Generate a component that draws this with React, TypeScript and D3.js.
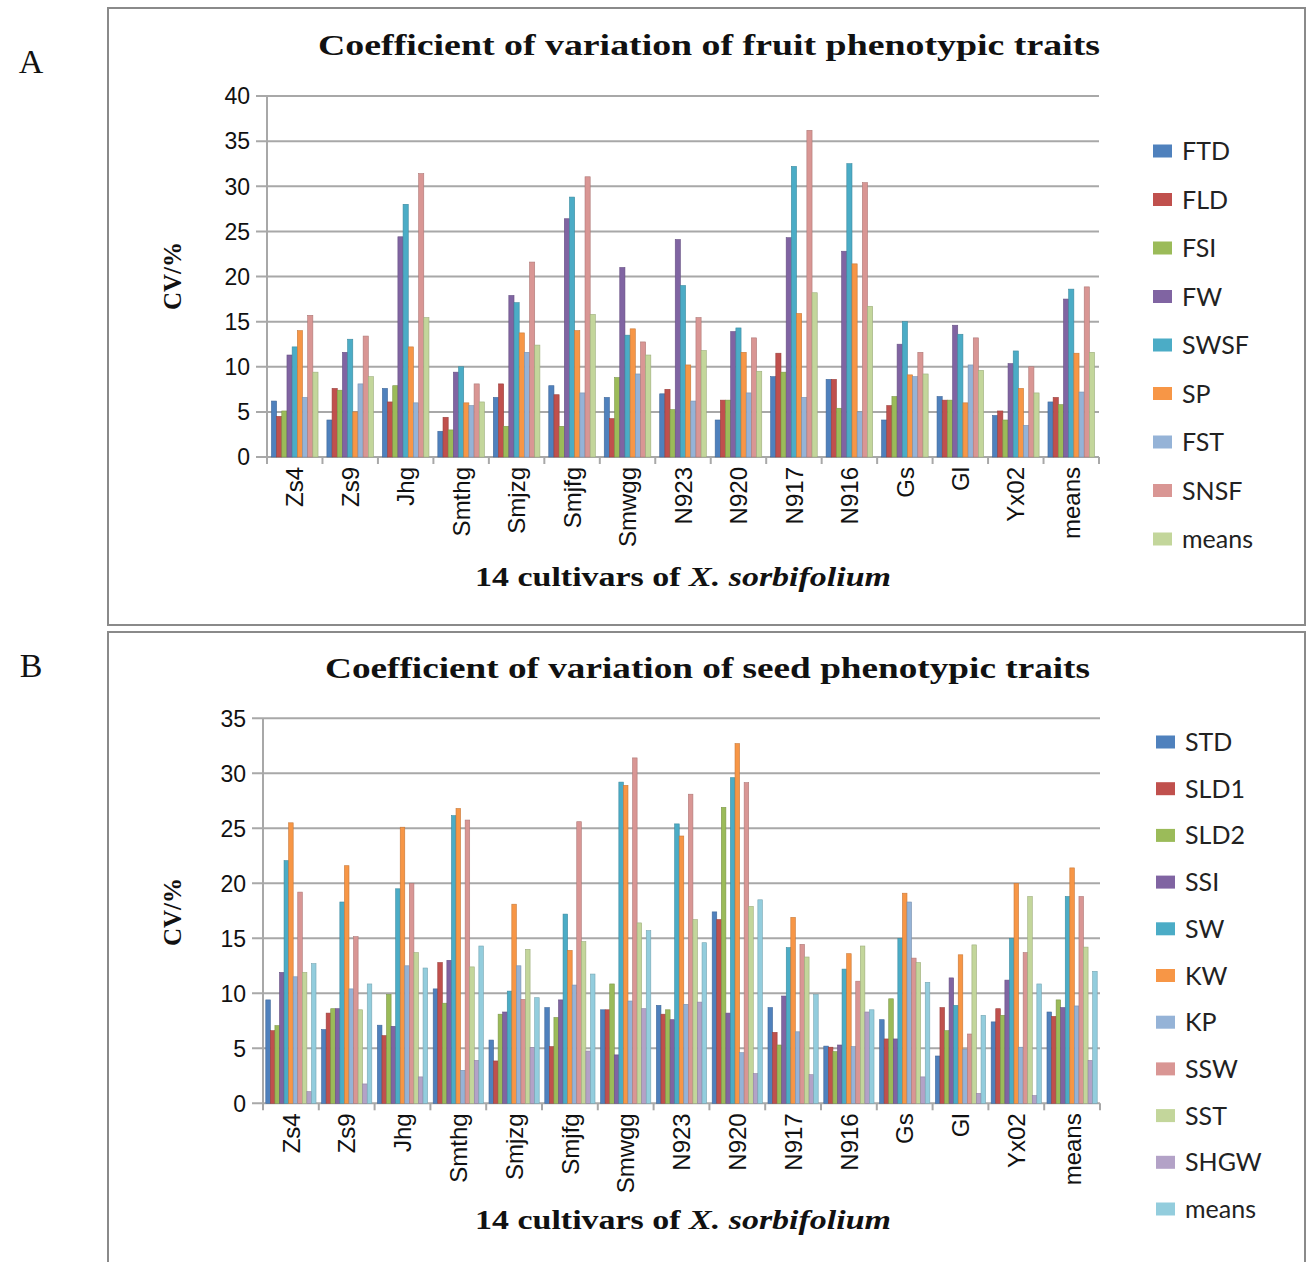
import React from 'react';
import * as d3 from 'd3';

const categories = ['Zs4','Zs9','Jhg','Smthg','Smjzg','Smjfg','Smwgg','N923','N920','N917','N916','Gs','Gl','Yx02','means'];

// Panel A: fruit traits
const fruitSeries = ['FTD','FLD','FSI','FW','SWSF','SP','FST','SNSF','means'];
const FTD = [6.2,4.1,7.6,2.85,6.6,7.9,6.6,7.0,4.1,8.9,8.6,4.1,6.7,4.6,6.1];
const FLD = [4.5,7.6,6.1,4.4,8.1,6.9,4.25,7.5,6.3,11.5,8.6,5.7,6.3,5.1,6.6];
const FSI = [5.1,7.4,7.9,3.0,3.4,3.4,8.8,5.25,6.3,9.4,5.4,6.7,6.3,4.1,5.8];
const FW = [11.3,11.6,24.4,9.4,17.9,26.4,21.0,24.1,13.9,24.3,22.8,12.5,14.6,10.35,17.5];
const SWSF = [12.2,13.05,28.0,10.0,17.1,28.8,13.5,19.0,14.3,32.2,32.5,15.0,13.6,11.75,18.6];
const SP = [14.0,5.0,12.2,6.0,13.75,14.0,14.2,10.2,11.6,15.9,21.4,9.1,6.0,7.6,11.5];
const FST = [6.6,8.1,6.0,5.7,11.6,7.1,9.2,6.2,7.1,6.6,5.0,8.9,10.2,3.5,7.2];
const SNSF = [15.7,13.4,31.4,8.1,21.6,31.05,12.75,15.45,13.2,36.2,30.4,11.6,13.2,10.0,18.85];
const fruitMeans = [9.4,8.9,15.45,6.1,12.4,15.8,11.3,11.8,9.5,18.2,16.7,9.2,9.6,7.1,11.6];
const fruitValues = [FTD, FLD, FSI, FW, SWSF, SP, FST, SNSF, fruitMeans];
const fruitTicks = [0,5,10,15,20,25,30,35,40];

// Panel B: seed traits
const seedSeries = ['STD','SLD1','SLD2','SSI','SW','KW','KP','SSW','SST','SHGW','means'];
const STD = [9.4,6.7,7.1,10.4,5.75,8.7,8.5,8.9,17.4,8.7,5.2,7.6,4.3,7.4,8.3];
const SLD1 = [6.6,8.2,6.15,12.8,3.85,5.15,8.5,8.1,16.7,6.45,5.1,5.85,8.7,8.6,7.9];
const SLD2 = [7.06,8.6,9.9,9.1,8.1,7.8,10.85,8.5,26.9,5.3,4.7,9.5,6.6,8.0,9.4];
const SSI = [11.9,8.6,7.0,13.0,8.3,9.4,4.4,7.6,8.2,9.75,5.3,5.85,11.4,11.2,8.7];
const SW = [22.06,18.3,19.5,26.15,10.2,17.2,29.2,25.4,29.6,14.15,12.2,15.0,8.9,15.0,18.8];
const KW = [25.5,21.6,25.1,26.8,18.1,13.9,28.9,24.3,32.7,16.9,13.6,19.1,13.5,20.0,21.4];
const KP = [11.5,10.4,12.5,3.0,12.5,10.75,9.3,9.0,4.6,6.5,5.15,18.3,4.9,5.1,8.85];
const SSW = [19.2,15.15,20.0,25.75,9.45,25.6,31.4,28.1,29.15,14.45,11.1,13.2,6.3,13.7,18.8];
const SST = [11.9,8.5,13.7,12.4,14.0,14.7,16.4,16.7,17.9,13.3,14.3,12.8,14.4,18.8,14.2];
const SHGW = [1.06,1.76,2.4,3.9,5.06,4.75,8.6,9.2,2.7,2.6,8.3,2.4,0.9,0.7,3.9];
const seedMeans = [12.7,10.85,12.3,14.3,9.6,11.75,15.7,14.6,18.5,9.9,8.5,11.0,8.0,10.85,12.0];
const seedValues = [STD, SLD1, SLD2, SSI, SW, KW, KP, SSW, SST, SHGW, seedMeans];
const seedTicks = [0,5,10,15,20,25,30,35];

const palette = ['#4F81BD','#C0504D','#9BBB59','#8064A2','#4BACC6','#F79646','#95B3D7','#D99694','#C3D69B','#B3A2C7','#93CDDD'];

type PanelProps = {
  letter: string; letterY: number;
  title: string; titleY: number; titleX0: number; titleX1: number;
  frame: { x: number; y: number; w: number; h: number };
  plot: { left: number; right: number; top: number; bottom: number };
  yMax: number; ticks: number[];
  series: string[]; values: number[][];
  pad: number;
  legend: { x: number; y0: number; step: number };
  xTitleY: number; yTitleY: number;
};

function Panel(p: PanelProps) {
  const y = d3.scaleLinear().domain([0, p.yMax]).range([p.plot.bottom, p.plot.top]);
  const x0 = d3.scaleBand<string>().domain(categories).range([p.plot.left, p.plot.right]).paddingInner(0);
  const bw = x0.bandwidth();
  const x1 = d3.scaleBand<string>().domain(p.series).range([bw * p.pad, bw * (1 - p.pad)]).padding(0);
  const grid = '#A8A8A8';
  return (
    <g>
      <rect x={p.frame.x} y={p.frame.y} width={p.frame.w} height={p.frame.h} fill="#fff" stroke="#8a8a8a" strokeWidth={2} />
      <text x={31} y={p.letterY} fontFamily="'Liberation Serif', 'Times New Roman', serif" fontSize={34} textAnchor="middle" fill="#111">{p.letter}</text>
      <text x={(p.titleX0 + p.titleX1) / 2} y={p.titleY} textAnchor="middle" fontFamily="'Liberation Serif', 'Times New Roman', serif" fontWeight="bold" fontSize={30}
        textLength={p.titleX1 - p.titleX0} lengthAdjust="spacingAndGlyphs" fill="#111">{p.title}</text>
      {p.ticks.map(t => (
        <g key={t}>
          <line x1={p.plot.left - 11} x2={p.plot.right} y1={y(t)} y2={y(t)} stroke={grid} strokeWidth={2} />
          <text x={p.plot.left - 17} y={y(t)} dy="0.36em" textAnchor="end" fontFamily="'Liberation Sans', Arial, sans-serif" fontSize={23} fill="#111">{t}</text>
        </g>
      ))}
      <line x1={p.plot.left} x2={p.plot.left} y1={p.plot.top} y2={p.plot.bottom} stroke={grid} strokeWidth={2} />
      {d3.range(categories.length + 1).map(i => {
        const xx = p.plot.left + i * bw;
        return <line key={i} x1={xx} x2={xx} y1={p.plot.bottom} y2={p.plot.bottom + 7} stroke={grid} strokeWidth={2} />;
      })}
      {categories.map((c, ci) => (
        <g key={c} transform={`translate(${x0(c)},0)`}>
          {p.series.map((s, si) => {
            const v = p.values[si][ci];
            const col = palette[si];
            return <rect key={s} x={x1(s)} y={y(v)} width={x1.bandwidth()} height={p.plot.bottom - y(v)}
              fill={col} stroke={d3.color(col)!.darker(0.6).toString()} strokeWidth={0.6} />;
          })}
        </g>
      ))}
      {categories.map(c => (
        <text key={c} transform={`translate(${(x0(c) as number) + bw / 2},${p.plot.bottom + 10}) rotate(-90)`} dy="0.36em" textAnchor="end"
          fontFamily="'Liberation Sans', Arial, sans-serif" fontSize={24} fill="#111">{c}</text>
      ))}
      <text x={683} y={p.xTitleY} textAnchor="middle" fontFamily="'Liberation Serif', 'Times New Roman', serif" fontWeight="bold" fontSize={27} fill="#111"
        textLength={416} lengthAdjust="spacingAndGlyphs">
        14 cultivars of <tspan fontStyle="italic">X. sorbifolium</tspan>
      </text>
      <text transform={`translate(172,${p.yTitleY}) rotate(-90)`} dy="0.36em" textAnchor="middle" fontFamily="'Liberation Serif', 'Times New Roman', serif"
        fontWeight="bold" fontSize={25} fill="#111">CV/%</text>
      {p.series.map((s, si) => (
        <g key={s} transform={`translate(${p.legend.x},${p.legend.y0 + si * p.legend.step})`}>
          <rect x={0} y={-6.5} width={19} height={13} fill={palette[si]} />
          <text x={29} y={0} dy="0.36em" fontFamily="Lato, 'Open Sans', sans-serif" fontSize={25} fill="#222">{s}</text>
        </g>
      ))}
    </g>
  );
}

export default function App() {
  return (
    <svg width={1306} height={1262} style={{ position: 'absolute', left: 0, top: 0, background: '#fff' }}>
      <rect x={0} y={0} width={1306} height={1262} fill="#fff" />
      <Panel letter="A" letterY={73} title="Coefficient of variation of fruit  phenotypic traits" titleY={55} titleX0={318} titleX1={1100}
        frame={{ x: 108, y: 8, w: 1197, h: 617 }} plot={{ left: 267, right: 1099, top: 96, bottom: 457 }}
        yMax={40} ticks={fruitTicks} series={fruitSeries} values={fruitValues} pad={0.08}
        legend={{ x: 1153, y0: 151, step: 48.5 }} xTitleY={586} yTitleY={276} />
      <Panel letter="B" letterY={677} title="Coefficient of variation of seed  phenotypic traits" titleY={678} titleX0={325} titleX1={1090}
        frame={{ x: 108, y: 632, w: 1197, h: 640 }} plot={{ left: 263, right: 1100, top: 718.3, bottom: 1103.3 }}
        yMax={35} ticks={seedTicks} series={seedSeries} values={seedValues} pad={0.05}
        legend={{ x: 1156, y0: 742, step: 46.7 }} xTitleY={1229} yTitleY={912} />
    </svg>
  );
}
